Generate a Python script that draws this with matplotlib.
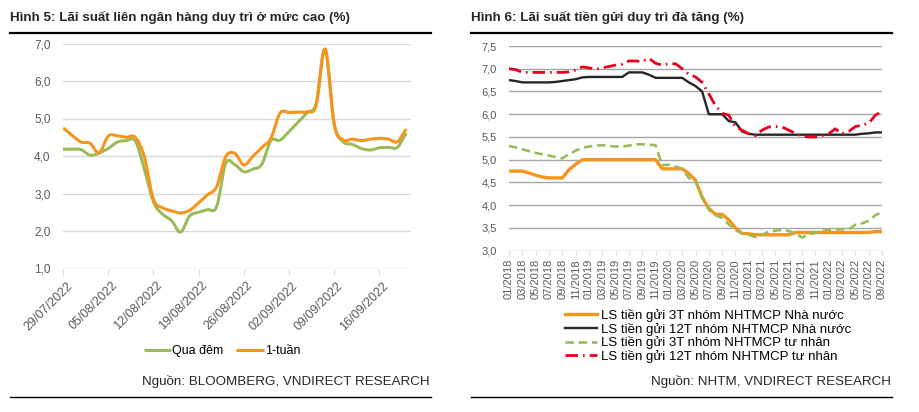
import numpy as np
import matplotlib
matplotlib.use('Agg')
import matplotlib.pyplot as plt
import matplotlib.transforms as mtransforms
from matplotlib.lines import Line2D

plt.rcParams['font.family'] = ['Liberation Sans', 'DejaVu Sans']

# ---- Hinh 5: lai suat lien ngan hang (daily, business days)
week_labels = ['29/07/2022', '05/08/2022', '12/08/2022', '19/08/2022',
               '26/08/2022', '02/09/2022', '09/09/2022', '16/09/2022']
qua_dem = [4.18, 4.18, 4.17, 4.02, 4.08, 4.20, 4.37, 4.41, 4.40, 3.65,
           2.78, 2.45, 2.28, 1.97, 2.40, 2.50, 2.57, 2.65, 3.80, 3.77,
           3.58, 3.65, 3.78, 4.41, 4.42, 4.65, 4.90, 5.15, 5.40, 6.85,
           4.85, 4.38, 4.31, 4.20, 4.16, 4.22, 4.23, 4.23, 4.60]
mot_tuan = [4.74, 4.55, 4.37, 4.34, 4.08, 4.53, 4.54, 4.50, 4.50, 3.98,
            2.85, 2.62, 2.54, 2.48, 2.55, 2.75, 2.97, 3.18, 3.98, 4.07,
            3.76, 3.99, 4.23, 4.47, 5.14, 5.16, 5.17, 5.18, 5.35, 6.85,
            4.85, 4.43, 4.45, 4.41, 4.45, 4.47, 4.45, 4.38, 4.71]

# ---- Hinh 6: lai suat tien gui (monthly 01/2018 - 09/2022)
months = [f'{m:02d}/{y}' for y in range(2018, 2023) for m in range(1, 13)][:57]
ls3t_nn = [4.75, 4.75, 4.75, 4.71, 4.66, 4.62, 4.60, 4.60, 4.60, 4.78,
           4.90, 5.00, 5.00, 5.00, 5.00, 5.00, 5.00, 5.00, 5.00, 5.00,
           5.00, 5.00, 5.00, 4.80, 4.80, 4.80, 4.80, 4.70, 4.55, 4.17,
           3.93, 3.80, 3.80, 3.68, 3.50, 3.38, 3.37, 3.35, 3.35, 3.35,
           3.35, 3.35, 3.35, 3.40, 3.40, 3.40, 3.40, 3.40, 3.40, 3.40,
           3.40, 3.40, 3.40, 3.40, 3.40, 3.42, 3.42]
ls12t_nn = [6.75, 6.73, 6.70, 6.70, 6.70, 6.70, 6.70, 6.71, 6.73, 6.75,
            6.77, 6.81, 6.82, 6.82, 6.82, 6.82, 6.82, 6.82, 6.92, 6.92,
            6.92, 6.87, 6.80, 6.80, 6.80, 6.80, 6.80, 6.70, 6.62, 6.50,
            6.00, 6.00, 6.00, 5.85, 5.82, 5.62, 5.57, 5.55, 5.55, 5.55,
            5.55, 5.55, 5.55, 5.55, 5.55, 5.55, 5.55, 5.55, 5.55, 5.55,
            5.55, 5.55, 5.55, 5.57, 5.58, 5.60, 5.60]
ls3t_tn = [5.30, 5.27, 5.23, 5.19, 5.15, 5.12, 5.09, 5.06, 5.03, 5.12,
           5.20, 5.26, 5.29, 5.31, 5.32, 5.30, 5.29, 5.29, 5.31, 5.34,
           5.34, 5.33, 5.32, 4.88, 4.89, 4.85, 4.80, 4.60, 4.52, 4.20,
           3.90, 3.78, 3.72, 3.58, 3.45, 3.38, 3.35, 3.30, 3.35, 3.42,
           3.44, 3.46, 3.43, 3.38, 3.29, 3.36, 3.39, 3.43, 3.46, 3.47,
           3.47, 3.47, 3.57, 3.60, 3.66, 3.78, 3.85]
ls12t_tn = [7.00, 6.98, 6.92, 6.92, 6.92, 6.92, 6.92, 6.92, 6.92, 6.93,
            6.97, 7.04, 7.02, 6.99, 7.02, 7.05, 7.08, 7.10, 7.17, 7.17,
            7.16, 7.23, 7.12, 7.08, 7.11, 7.11, 7.00, 6.88, 6.82, 6.70,
            6.45, 6.19, 6.02, 5.98, 5.72, 5.65, 5.57, 5.53, 5.65, 5.72,
            5.73, 5.72, 5.65, 5.58, 5.52, 5.50, 5.50, 5.53, 5.57, 5.68,
            5.57, 5.62, 5.73, 5.76, 5.80, 5.98, 6.06]

W, H = 919, 412
fig = plt.figure(figsize=(W / 100, H / 100), dpi=100)


def fx(x):
    return x / W


def fy(y):
    return 1 - y / H


def smooth(y, k=12):
    # catmull-rom like Excel's smoothed line
    y = np.asarray(y, float)
    p = np.concatenate([[y[0]], y, [y[-1]]])
    t = np.linspace(0, 1, k, endpoint=False)
    h00 = 2 * t**3 - 3 * t**2 + 1
    h10 = t**3 - 2 * t**2 + t
    h01 = -2 * t**3 + 3 * t**2
    h11 = t**3 - t**2
    xs, ys = [], []
    for i in range(len(y) - 1):
        m1 = (p[i + 2] - p[i]) / 2
        m2 = (p[i + 3] - p[i + 1]) / 2
        ys.append(h00 * p[i + 1] + h10 * m1 + h01 * p[i + 2] + h11 * m2)
        xs.append(i + t)
    xs.append([len(y) - 1])
    ys.append([y[-1]])
    return np.concatenate(xs), np.concatenate(ys)


def comma(v):
    return f'{v:.1f}'.replace('.', ',')


tick_col = '#595959'
text_col = '#262626'

# ---------------- left panel
fig.text(fx(10), fy(17), 'Hình 5: Lãi suất liên ngân hàng duy trì ở mức cao (%)',
         fontsize=9.6, fontweight='bold', color=text_col, va='center', ha='left')
fig.add_artist(Line2D([fx(10), fx(431)], [fy(33), fy(33)], color='black', lw=1.6))

ax1 = fig.add_axes([fx(63), fy(268.5), fx(411) - fx(63), fy(43.5) - fy(268.5)])
green = '#9bbb59'
orange = '#f7941d'
x1, y1 = smooth(qua_dem)
x2, y2 = smooth(mot_tuan)
ax1.plot(x1, y1, color=green, lw=2.2, solid_capstyle='butt', label='Qua đêm')
ax1.plot(x2, y2, color=orange, lw=2.2, solid_capstyle='butt', label='1-tuần')
ax1.set_xlim(0, 38.5)
ax1.set_ylim(1, 7)
yt = np.arange(1, 8)
ax1.set_yticks(yt)
ax1.set_yticklabels([comma(v) for v in yt])
ax1.grid(axis='y', color='#d9d9d9', lw=1)
ax1.set_axisbelow(True)
for s in ax1.spines.values():
    s.set_visible(False)
ax1.tick_params(axis='y', length=0, pad=9, labelsize=8.5, labelcolor=tick_col)
ax1.set_xticks(np.arange(0, 36, 5))
ax1.set_xticklabels(week_labels, rotation=45, ha='right', va='top',
                    rotation_mode='anchor')
ax1.tick_params(axis='x', length=4, color='#d9d9d9', pad=4, labelsize=9,
                labelcolor=tick_col)
off = mtransforms.ScaledTranslation(3 / 100, 0, fig.dpi_scale_trans)
for lab in ax1.get_xticklabels():
    lab.set_transform(lab.get_transform() + off)

ax1.legend(loc='center', bbox_to_anchor=(fx(222), fy(351)),
           bbox_transform=fig.transFigure, ncol=2, frameon=False,
           fontsize=9, handlelength=2.2, handletextpad=0.1,
           columnspacing=1.0, borderpad=0, borderaxespad=0)
fig.text(fx(430), fy(381), 'Nguồn: BLOOMBERG, VNDIRECT RESEARCH', fontsize=9.6,
         color=text_col, ha='right', va='center')
fig.add_artist(Line2D([fx(10), fx(431)], [fy(397), fy(397)], color='black', lw=1.0))

# ---------------- right panel
fig.text(fx(471), fy(17), 'Hình 6: Lãi suất tiền gửi duy trì đà tăng (%)',
         fontsize=9.6, fontweight='bold', color=text_col, va='center', ha='left')
fig.add_artist(Line2D([fx(471), fx(892)], [fy(33), fy(33)], color='black', lw=1.6))

ax2 = fig.add_axes([fx(509), fy(250.7), fx(882) - fx(509), fy(46) - fy(250.7)])
xm = np.arange(len(months))
ax2.plot(xm, ls3t_nn, color=orange, lw=2.4, label='LS tiền gửi 3T nhóm NHTMCP Nhà nước')
ax2.plot(xm, ls12t_nn, color='#262626', lw=1.7, label='LS tiền gửi 12T nhóm NHTMCP Nhà nước')
ax2.plot(xm, ls3t_tn, color=green, lw=1.9, dashes=(3.2, 1.8),
         label='LS tiền gửi 3T nhóm NHTMCP tư nhân')
ax2.plot(xm, ls12t_tn, color='#e8001c', lw=2.0, dashes=(4.5, 1.8, 0.6, 1.8),
         label='LS tiền gửi 12T nhóm NHTMCP tư nhân')
ax2.set_xlim(0, len(months) - 1)
ax2.set_ylim(3, 7.5)
yt2 = np.arange(3, 7.51, 0.5)
ax2.set_yticks(yt2)
ax2.set_yticklabels([comma(v) for v in yt2])
ax2.grid(axis='y', color='#a6a6a6', lw=1)
ax2.set_axisbelow(True)
for s in ax2.spines.values():
    s.set_visible(False)
ax2.tick_params(axis='y', length=0, pad=9, labelsize=8, labelcolor=tick_col)
ax2.set_xticks(xm[::2])
ax2.set_xticklabels(months[::2], rotation=90)
ax2.tick_params(axis='x', length=3, color='#d9d9d9', pad=3, labelsize=8,
                labelcolor=tick_col)

ax2.legend(loc='center left', bbox_to_anchor=(fx(565), fy(336)),
           bbox_transform=fig.transFigure, ncol=1, frameon=False,
           fontsize=9.5, handlelength=2.4, handletextpad=0.3,
           labelspacing=0.05, borderpad=0, borderaxespad=0)
fig.text(fx(891), fy(382), 'Nguồn: NHTM, VNDIRECT RESEARCH', fontsize=9.6,
         color=text_col, ha='right', va='center')
fig.add_artist(Line2D([fx(471), fx(892)], [fy(397), fy(397)], color='black', lw=1.0))

fig.savefig('out.png', dpi=100)
